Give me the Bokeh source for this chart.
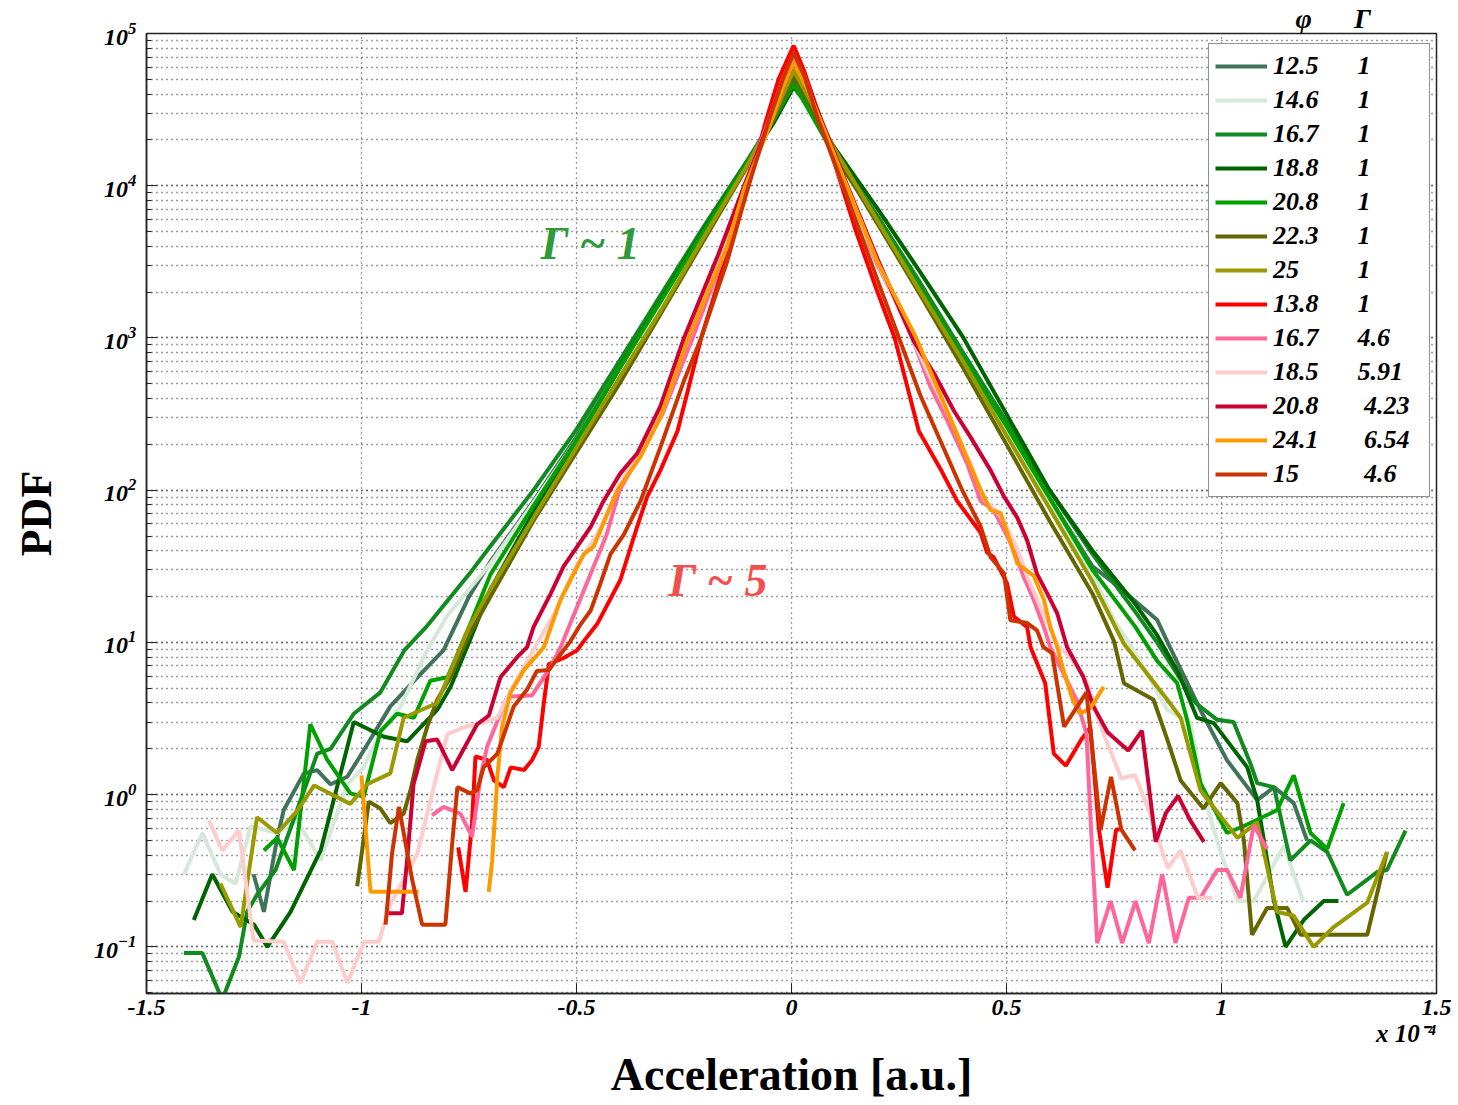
from bokeh.plotting import figure
from bokeh.models import Legend, LegendItem, Label, FixedTicker, Range1d, Title
from bokeh.embed import file_html
from bokeh.resources import INLINE

nan = float("nan")

# ---------------- data (x in units of 1e-4, y = PDF) ----------------
phi_labels = ["12.5", "14.6", "16.7", "18.8", "20.8", "22.3", "25",
              "13.8", "16.7", "18.5", "20.8", "24.1", "15"]
gamma_labels = ["1", "1", "1", "1", "1", "1", "1",
                "1", "4.6", "5.91", "4.23", "6.54", "4.6"]

x_ticks = [-1.5, -1.0, -0.5, 0.0, 0.5, 1.0, 1.5]
x_tick_labels = ["-1.5", "-1", "-0.5", "0", "0.5", "1", "1.5"]

x_s1 = [-1.251, -1.227, -1.196, -1.181, -1.134, -1.103, -1.072, -1.033, -0.995, -0.933, -0.870, -0.809,
        -0.75, -0.70, -0.60, -0.50, -0.40, -0.30, -0.20, -0.10, -0.04, 0.005, 0.04, 0.10, 0.20, 0.30,
        0.40, 0.50, 0.60, 0.70, 0.75, 0.80, 0.85,
        0.88, 0.951, 1.013, 1.083, 1.122, 1.168, 1.199]
y_s1 = [0.30, 0.17, 0.52, 0.79, 1.38, 1.45, 1.17, 1.31, 1.95, 3.8, 5.9, 8.9,
        20, 34, 85, 224, 646, 1860, 5370, 14800, 28200, 47900, 33100, 16600, 6030, 2140,
        759, 269, 89, 31.6, 24.5, 18.6, 14.1,
        9.3, 3.6, 1.68, 0.92, 1.12, 0.88, 0.50]

x_s2 = [-1.413, -1.37, -1.328, -1.293, -1.258, -1.196, -1.15, -1.095, -1.033, -0.995, -0.956, -0.909, -0.847,
        -0.80, -0.70, -0.60, -0.50, -0.40, -0.30, -0.20, -0.10, -0.04, 0.005, 0.04, 0.10, 0.20, 0.30,
        0.40, 0.50, 0.60, 0.70, 0.75, 0.80,
        0.874, 0.928, 0.958, 0.998, 1.037, 1.075, 1.145, 1.19]
y_s2 = [0.30, 0.56, 0.30, 0.26, 0.62, 0.56, 0.68, 0.37, 1.17, 1.51, 2.6, 3.8, 8.9,
        15.1, 33, 83, 214, 631, 1820, 5250, 14800, 28200, 46800, 31600, 15800, 5750, 2000,
        708, 251, 83, 28, 14, 8.5,
        3.6, 2.95, 1.0, 0.42, 0.20, 0.20, 0.46, 0.20]

x_s3 = [-1.413, -1.37, -1.324, -1.285, -1.266, -1.243, -1.20, -1.15, -1.103, -1.072, -1.018, -0.956, -0.90, -0.85,
        -0.75, -0.70, -0.60, -0.50, -0.40, -0.30, -0.20, -0.10, -0.04, 0.005, 0.04, 0.10, 0.20, 0.30,
        0.40, 0.50, 0.60, 0.70, 0.80, 0.85, 0.90, 0.94,
        0.99, 1.028, 1.067, 1.083, 1.122, 1.16, 1.207, 1.246, 1.292, 1.362, 1.385, 1.428]
y_s3 = [0.091, 0.091, 0.045, 0.086, 0.17, 0.22, 0.32, 0.79, 1.86, 2.0, 3.4, 4.7, 8.9, 12.6,
        28, 43, 100, 251, 708, 2000, 5620, 15100, 28200, 50100, 33900, 16600, 6310, 2290,
        794, 282, 100, 38, 15.8, 10, 6.0, 4.0,
        3.1, 3.0, 1.61, 1.19, 1.12, 0.37, 0.50, 0.42, 0.22, 0.31, 0.32, 0.58]

x_s4 = [-1.39, -1.347, -1.30, -1.25, -1.219, -1.165, -1.095, -1.057, -1.018, -0.948, -0.894, -0.824, -0.793, -0.75,
        -0.70, -0.60, -0.50, -0.40, -0.30, -0.20, -0.10, -0.04, 0.005, 0.04, 0.10, 0.20, 0.30,
        0.40, 0.50, 0.60, 0.70, 0.80, 0.85, 0.90,
        0.943, 0.982, 1.06, 1.083, 1.122, 1.149, 1.191, 1.238, 1.272]
y_s4 = [0.15, 0.30, 0.17, 0.14, 0.10, 0.17, 0.43, 1.12, 3.0, 2.4, 2.24, 3.6, 5.1, 10,
        22.4, 72, 209, 631, 1860, 5370, 14500, 26300, 44700, 33100, 17800, 7080, 2690,
        1000, 316, 100, 40, 17.8, 11.2, 6.3,
        3.2, 2.95, 1.51, 0.92, 0.20, 0.10, 0.15, 0.20, 0.20]

x_s5 = [-1.227, -1.196, -1.157, -1.119, -1.08, -1.026, -0.995, -0.956, -0.917, -0.878, -0.84, -0.80,
        -0.75, -0.70, -0.60, -0.50, -0.40, -0.30, -0.20, -0.10, -0.04, 0.005, 0.04, 0.10, 0.20, 0.30,
        0.40, 0.50, 0.60, 0.70, 0.80, 0.85,
        0.897, 0.92, 0.951, 1.013, 1.051, 1.129, 1.168, 1.207, 1.246, 1.284]
y_s5 = [0.43, 0.52, 0.32, 2.9, 1.7, 1.02, 0.97, 2.6, 3.4, 3.2, 5.6, 5.9,
        12.6, 28, 79, 214, 631, 1820, 5250, 14500, 27500, 46800, 31600, 15800, 5890, 2090,
        724, 263, 89, 30, 12.6, 7.6,
        5.4, 3.1, 1.19, 0.56, 0.62, 0.79, 1.34, 0.56, 0.44, 0.88]

x_s6 = [-1.01, -0.983, -0.956, -0.933, -0.902, -0.886, -0.87, -0.847, -0.824, -0.793,
        -0.75, -0.70, -0.60, -0.50, -0.40, -0.30, -0.20, -0.10, -0.04, 0.005, 0.04, 0.10, 0.20, 0.30,
        0.40, 0.50, 0.60, 0.70, 0.75,
        0.773, 0.842, 0.874, 0.905, 0.958, 0.998, 1.037, 1.052, 1.071, 1.106, 1.153, 1.184, 1.339, 1.385]
y_s6 = [0.25, 0.90, 0.81, 0.65, 0.75, 1.07, 1.7, 2.8, 4.2, 5.9,
        11.2, 20, 63, 178, 501, 1510, 4570, 13800, 28200, 52500, 35500, 16600, 5620, 1910,
        631, 200, 63, 20.9, 10.2,
        5.4, 4.2, 2.3, 1.24, 0.81, 1.19, 0.88, 0.50, 0.12, 0.18, 0.18, 0.12, 0.12, 0.42]

x_s7 = [-1.328, -1.281, -1.258, -1.243, -1.196, -1.15, -1.11, -1.026, -0.987, -0.933, -0.902, -0.824,
        -0.75, -0.70, -0.60, -0.50, -0.40, -0.30, -0.20, -0.10, -0.04, 0.005, 0.04, 0.10, 0.20, 0.30,
        0.40, 0.50, 0.60, 0.70,
        0.773, 0.874, 0.905, 0.951, 1.037, 1.083, 1.129, 1.168, 1.214, 1.261, 1.339, 1.385]
y_s7 = [0.26, 0.135, 0.37, 0.71, 0.56, 0.78, 1.15, 0.87, 1.17, 1.38, 3.2, 4.0,
        12.6, 22.4, 66, 191, 550, 1580, 4790, 14100, 29500, 57500, 38000, 17400, 5890, 2000,
        692, 229, 76, 25,
        9.8, 4.2, 3.2, 1.07, 0.52, 0.66, 0.17, 0.16, 0.10, 0.135, 0.195, 0.42]

x_s8 = [-0.775, -0.758, -0.743, -0.735, -0.708, -0.692, -0.669, -0.653, -0.622, -0.603,
        -0.588, -0.576, -0.564, -0.53, -0.498, -0.483, -0.452, -0.398, -0.359, -0.336,
        -0.305, -0.265, -0.21, -0.15, -0.10, -0.06, -0.03, 0.005, 0.03, 0.06,
        0.10, 0.15, 0.20, 0.24, 0.296, 0.35, 0.385, 0.44, 0.455, 0.47,
        0.501, 0.517, 0.548, 0.556, 0.59, 0.61, 0.638, 0.674, 0.695, 0.715,
        0.735, 0.755, 0.763]
y_s8 = [0.45, 0.23, 0.65, 1.78, 1.69, 1.24, 1.12, 1.51, 1.45, 1.69,
        2.06, 4.0, 7.2, 7.9, 8.9, 10.2, 13.2, 25.7, 57.5, 90,
        135, 245, 1000, 3550, 10000, 26300, 50100, 83200, 56200, 31600,
        14100, 5010, 2000, 1000, 245, 132, 85, 52.5, 38.9, 36.3,
        24.5, 14.8, 12.6, 9.3, 5.4, 1.86, 1.55, 2.3, 2.75, 0.59,
        0.245, 0.59, 0.59]

x_s9 = [-0.836, -0.809, -0.77, -0.743, -0.723, -0.708, -0.661, -0.603, -0.56, -0.537,
        -0.483, -0.43, -0.40, -0.30, -0.23, -0.15, -0.11, -0.05, -0.02, 0.005,
        0.03, 0.06, 0.12, 0.20, 0.269, 0.323, 0.362, 0.409, 0.44, 0.47,
        0.494, 0.517, 0.54, 0.563, 0.587, 0.602, 0.663, 0.686, 0.698, 0.711,
        0.742, 0.769, 0.80, 0.831, 0.862, 0.893, 0.924, 0.951, 0.99, 1.013,
        1.044, 1.075, 1.106]
y_s9 = [0.73, 0.83, 0.75, 0.53, 1.31, 2.06, 4.4, 4.5, 6.9, 9.3,
        21.9, 51, 100, 316, 1000, 3980, 10000, 28200, 50100, 70800,
        52500, 30200, 10000, 3020, 1230, 479, 288, 148, 85, 74,
        55, 40.7, 26.9, 19.1, 12.6, 9.3, 4.2, 2.5, 0.5, 0.106,
        0.20, 0.106, 0.20, 0.106, 0.30, 0.106, 0.21, 0.21, 0.32, 0.32,
        0.21, 0.63, 0.44]

x_s10 = [-1.355, -1.324, -1.285, -1.251, -1.181, -1.142, -1.103, -1.068, -1.033, -0.994,
         -0.96, -0.933, -0.87, -0.824, -0.80, -0.758, -0.72, -0.684, -0.65, -0.60,
         -0.55, -0.50, -0.45, -0.40, -0.30, -0.24, -0.15, -0.11, -0.05, -0.02,
         0.005, 0.03, 0.06, 0.12, 0.20, 0.28, 0.33, 0.372, 0.42, 0.45,
         0.48, 0.505, 0.527, 0.55, 0.573, 0.60, 0.62, 0.65, 0.686, 0.726,
         0.767, 0.799, 0.831, 0.875, 0.905, 0.945, 0.979]
y_s10 = [0.68, 0.43, 0.58, 0.11, 0.108, 0.058, 0.108, 0.108, 0.058, 0.108,
         0.108, 0.19, 0.41, 1.38, 2.5, 2.8, 2.95, 3.2, 5.0, 8.9,
         15.8, 31.6, 52.5, 107, 331, 1000, 4170, 10000, 26900, 45700,
         63100, 50100, 29500, 10000, 3160, 1000, 501, 288, 141, 85,
         72, 54, 39.8, 26.3, 18.6, 12.6, 9.5, 7.9, 5.6, 2.5,
         1.28, 1.34, 0.79, 0.33, 0.43, 0.21, 0.21]

x_s11 = [-0.937, -0.906, -0.894, -0.879, -0.851, -0.824, -0.789, -0.731, -0.704, -0.677,
         -0.638, -0.615, -0.60, -0.56, -0.53, -0.498, -0.467, -0.437, -0.398, -0.359,
         -0.305, -0.25, -0.17, -0.11, -0.05, -0.02, 0.005, 0.03, 0.06, 0.13,
         0.20, 0.284, 0.331, 0.378, 0.416, 0.463, 0.494, 0.525, 0.548, 0.571,
         0.595, 0.618, 0.641, 0.679, 0.702, 0.735, 0.783, 0.815, 0.847, 0.871,
         0.899, 0.927, 0.959]
y_s11 = [0.166, 0.166, 0.37, 1.17, 2.24, 2.3, 1.45, 2.9, 3.3, 5.9,
         8.0, 9.3, 12.6, 20.9, 31.6, 42.7, 57.5, 85, 129, 174,
         355, 1000, 3550, 10000, 26900, 45700, 63100, 50100, 31600, 10000,
         3310, 955, 589, 331, 224, 135, 91, 66, 46.8, 28.2,
         20.9, 15.5, 9.3, 5.9, 3.8, 2.57, 1.95, 2.63, 0.49, 0.76,
         0.98, 0.68, 0.49]

x_s12 = [-1.0, -0.979, -0.867, nan, -0.704, -0.696, -0.684, -0.673, -0.653, -0.622,
         -0.576, -0.537, -0.514, -0.483, -0.46, -0.405, -0.351, -0.305, -0.24, -0.15,
         -0.11, -0.05, -0.02, 0.005, 0.04, 0.10, 0.20, 0.29, 0.35, 0.44,
         0.463, 0.486, 0.502, 0.525, 0.563, 0.587, 0.602, 0.618, 0.63, 0.654,
         0.67, 0.695, 0.726]
y_s12 = [1.34, 0.23, 0.23, nan, 0.23, 0.37, 1.31, 2.8, 4.7, 6.6,
         9.3, 19.1, 25.7, 38, 42.7, 100, 166, 302, 1000, 3980,
         9550, 25100, 44700, 64600, 41700, 15800, 3160, 1000, 398, 100,
         74, 71, 52.5, 33, 27.5, 19.1, 12.6, 9.3, 6.9, 4.2,
         3.4, 3.7, 5.1]

x_s13 = [-0.944, -0.929, -0.913, -0.882, -0.859, -0.805, -0.789, -0.777, -0.747, -0.731,
         -0.716, -0.684, -0.646, -0.615, -0.592, -0.564, -0.514, -0.49, -0.467, -0.444,
         -0.421, -0.39, -0.351, -0.305, -0.25, -0.21, -0.15, -0.10, -0.05, -0.02,
         0.005, 0.03, 0.06, 0.12, 0.20, 0.25, 0.30, 0.397, 0.44, 0.463,
         0.494, 0.509, 0.548, 0.571, 0.586, 0.606, 0.634, 0.686, 0.719, 0.743,
         0.767, 0.799]
y_s13 = [0.14, 0.41, 0.83, 0.275, 0.14, 0.14, 0.48, 1.12, 1.02, 1.07,
         1.51, 1.86, 3.8, 4.9, 6.5, 6.6, 10.2, 13.2, 16.2, 24.5,
         38, 51, 85, 191, 525, 1000, 3160, 10000, 28200, 50100,
         75000, 52500, 28200, 10000, 2400, 1000, 417, 100, 57.5, 36.3,
         28.5, 14, 13.4, 12, 9.3, 8.5, 2.8, 4.7, 0.59, 1.31,
         0.59, 0.43]

series_x = [x_s1, x_s2, x_s3, x_s4, x_s5, x_s6, x_s7, x_s8, x_s9, x_s10, x_s11, x_s12, x_s13]
series_y = [y_s1, y_s2, y_s3, y_s4, y_s5, y_s6, y_s7, y_s8, y_s9, y_s10, y_s11, y_s12, y_s13]

# ---------------- style ----------------
colors = ["#41735A", "#D5E8DA", "#118A1F", "#006400", "#00A000", "#666600", "#999900",
          "#FF0000", "#FF6699", "#FFCCCC", "#CC0033", "#FF9900", "#CC3300"]
pad_spaces = [6, 6, 6, 6, 6, 6, 9, 6, 6, 6, 7, 7, 10]
SERIF = "Liberation Serif"
NBSP = "\u00a0"

p = figure(width=1458, height=1105, y_axis_type="log",
           x_range=Range1d(-1.5, 1.5), y_range=Range1d(0.0494, 1e5),
           output_backend="svg", toolbar_location=None,
           min_border_left=146, min_border_right=22, min_border_top=33, min_border_bottom=112)

p.background_fill_color = "white"
p.border_fill_color = "white"
p.outline_line_color = "#222222"
p.outline_line_width = 1.5

for g in (p.xgrid, p.ygrid):
    g.grid_line_color = "#3a3a3a"
    g.grid_line_dash = "1 4"
    g.grid_line_width = 1.3
p.ygrid.minor_grid_line_color = "#3a3a3a"
p.ygrid.minor_grid_line_dash = "1 4"
p.ygrid.minor_grid_line_width = 1.3

p.xaxis.ticker = FixedTicker(ticks=x_ticks)
p.xaxis.major_label_overrides = {t: l for t, l in zip(x_ticks, x_tick_labels)}

for ax in (p.xaxis, p.yaxis):
    ax.major_label_text_font = SERIF
    ax.major_label_text_font_style = "bold italic"
    ax.major_label_text_font_size = "24px"
    ax.major_label_text_color = "black"
    ax.axis_label_text_font = SERIF
    ax.axis_label_text_font_style = "bold"
    ax.axis_label_text_color = "black"
    ax.major_tick_in = 10
    ax.major_tick_out = 0
    ax.minor_tick_in = 5
    ax.minor_tick_out = 0
    ax.axis_line_color = "#222222"
    ax.axis_line_width = 1.5
    ax.major_tick_line_color = "#222222"
    ax.minor_tick_line_color = "#222222"

p.xaxis.minor_tick_line_color = None
p.xaxis.major_label_standoff = 6
p.yaxis.axis_label = "PDF"
p.yaxis.axis_label_text_font_size = "44px"
p.yaxis.major_label_standoff = 10
p.yaxis.axis_label_standoff = 30

renderers = []
for xs, ys, c in zip(series_x, series_y, colors):
    r = p.line(xs, ys, line_color=c, line_width=4)
    renderers.append(r)

items = []
for r, ph, ga, n in zip(renderers, phi_labels, gamma_labels, pad_spaces):
    items.append(LegendItem(label=ph + NBSP * n + ga, renderers=[r]))

legend = Legend(items=items, location=(1062, 496),
                label_text_font=SERIF, label_text_font_style="bold italic",
                label_text_font_size="26px", label_text_color="black",
                glyph_width=52, glyph_height=32, label_height=32, label_width=150,
                spacing=2, padding=6, label_standoff=6, margin=0,
                border_line_color="#222222", border_line_width=1.5,
                background_fill_color="white", background_fill_alpha=1.0)
p.add_layout(legend)

# in-plot annotations
p.add_layout(Label(x=-0.467, y=4170, text="Γ ~ 1", text_align="center", text_baseline="middle",
                   text_font=SERIF, text_font_style="bold italic", text_font_size="46px",
                   text_color="#2F9A3A"))
p.add_layout(Label(x=-0.17, y=25.7, text="Γ ~ 5", text_align="center", text_baseline="middle",
                   text_font=SERIF, text_font_style="bold italic", text_font_size="46px",
                   text_color="#F2504F"))

# legend header above the frame
p.add_layout(Title(text="φ" + NBSP * 6 + "Γ", align="left", offset=1149, standoff=0,
                   text_font=SERIF, text_font_style="bold italic", text_font_size="28px",
                   text_color="black"), "above")

# below the x axis: exponent note, then axis title
p.add_layout(Title(text="x 10\u207b\u2074", align="right", offset=0, standoff=0,
                   text_font=SERIF, text_font_style="bold italic", text_font_size="25px",
                   text_color="black"), "below")
p.add_layout(Title(text="Acceleration [a.u.]", align="center", standoff=0,
                   text_font=SERIF, text_font_style="bold", text_font_size="46px",
                   text_color="black"), "below")

open("out.html", "w").write(file_html(p, INLINE))
